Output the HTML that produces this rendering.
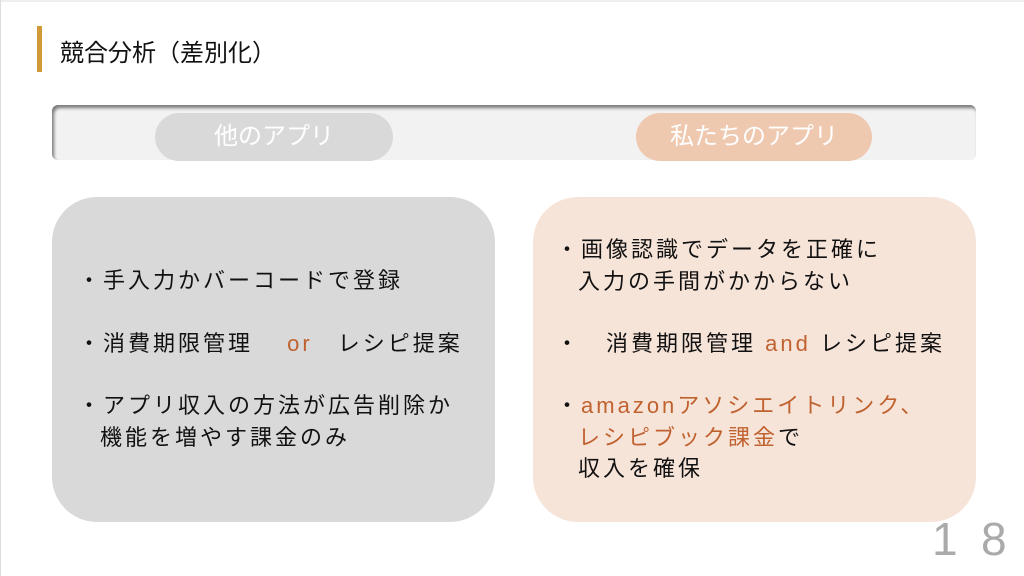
<!DOCTYPE html>
<html><head><meta charset="utf-8"><style>
body{margin:0;width:1024px;height:576px;background:#fff;position:relative;overflow:hidden;font-family:"Liberation Sans","Noto Sans CJK JP",sans-serif;}
.a{position:absolute;white-space:nowrap;}
.t{font-size:22px;letter-spacing:3px;color:#111;line-height:32px;}
.o{color:#c0622f;}
</style></head><body>
<div class="a" style="left:0;top:0;width:1024px;height:2px;background:#eee"></div>
<div class="a" style="left:0;top:0;width:1px;height:576px;background:#ddd"></div>
<div class="a" style="left:37px;top:26px;width:5px;height:46px;background:#d09a38"></div>
<div class="a" style="left:60px;top:33px;font-size:24px;color:#111">競合分析（差別化）</div>
<div class="a" style="left:52px;top:105px;width:924px;height:55px;background:#f2f2f2;border-radius:6px;box-shadow:inset 2px 3px 3px rgba(0,0,0,0.5)"></div>
<div class="a" style="left:155px;top:113px;width:238px;height:48px;background:#d9d9d9;border-radius:24px;color:#fff;font-size:24px;text-align:center;line-height:48px">他のアプリ</div>
<div class="a" style="left:636px;top:113px;width:236px;height:48px;background:#efc8b0;border-radius:24px;color:#fff;font-size:24px;text-align:center;line-height:48px">私たちのアプリ</div>
<div class="a" style="left:52px;top:197px;width:443px;height:325px;background:#d9d9d9;border-radius:45px"></div>
<div class="a" style="left:533px;top:197px;width:443px;height:325px;background:#f7e4d9;border-radius:45px"></div>
<div class="a t" style="left:78px;top:265px">・手入力かバーコードで登録</div>
<div class="a t" style="left:78px;top:328px">・消費期限管理 <span class="o">　or　</span>レシピ提案</div>
<div class="a t" style="left:78px;top:390px">・アプリ収入の方法が広告削除か</div>
<div class="a t" style="left:100px;top:422px">機能を増やす課金のみ</div>
<div class="a t" style="left:556px;top:234px">・画像認識でデータを正確に</div>
<div class="a t" style="left:578px;top:266px">入力の手間がかからない</div>
<div class="a t" style="left:556px;top:328px">・　消費期限管理 <span class="o">and</span> レシピ提案</div>
<div class="a t" style="left:556px;top:390px">・<span class="o">amazonアソシエイトリンク、</span></div>
<div class="a t" style="left:578px;top:422px"><span class="o">レシピブック課金</span>で</div>
<div class="a t" style="left:578px;top:453px">収入を確保</div>
<div class="a" style="left:932px;top:512px;font-size:46px;color:#aaa;">1</div>
<div class="a" style="left:981px;top:512px;font-size:46px;color:#aaa;">8</div>
</body></html>
